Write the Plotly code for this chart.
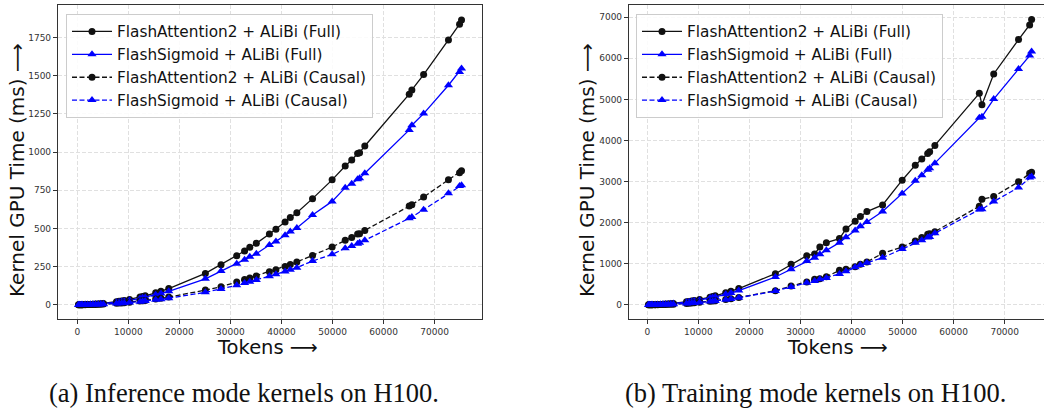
import plotly.graph_objects as go

tokens = [256, 512, 768, 1024, 1536, 2048, 2560, 3072, 3584, 4096, 4608, 5120,
          7680, 8192, 8704, 9216, 10240, 12288, 12800, 13312, 15360, 16384, 17920,
          25088, 28160, 31232, 32768, 33792, 35072, 37632, 38912, 40704, 41728, 43008,
          46080, 49920, 52480, 53760, 54912, 55296, 56320, 65024, 65536, 67840,
          72704, 74880, 75264]

# (a) Inference mode
inf_fa2_full = [0.1, 0.2, 0.3, 0.4, 0.8, 1.4, 2.2, 3.1, 4.2, 5.5, 7.0, 8.6,
                19, 22, 25, 28, 35, 50, 54, 58, 78, 88, 106,
                205, 262, 321, 352, 376, 402, 463, 494, 542, 572, 603,
                695, 818, 909, 948, 990, 996, 1040, 1379, 1407, 1508,
                1735, 1838, 1866]
inf_fs_full = [0.1, 0.2, 0.3, 0.4, 0.7, 1.2, 1.8, 2.6, 3.5, 4.6, 5.8, 7.1,
               16, 18, 21, 23, 29, 41, 45, 48, 65, 73, 88,
               170, 221, 269, 295, 315, 334, 391, 415, 455, 479, 503,
               588, 677, 767, 793, 822, 828, 861, 1145, 1176, 1252,
               1438, 1525, 1547]
inf_fa2_causal = [0.05, 0.1, 0.15, 0.2, 0.4, 0.7, 1.1, 1.5, 2.0, 2.6, 3.3, 4.1,
                  9, 10.5, 12, 13.5, 17, 24, 26, 28, 37, 42, 50,
                  96, 118, 149, 166, 175, 188, 216, 229, 251, 264, 280,
                  323, 378, 422, 441, 463, 465, 487, 647, 655, 705,
                  819, 865, 878]
inf_fs_causal = [0.05, 0.1, 0.15, 0.2, 0.35, 0.6, 0.9, 1.3, 1.7, 2.2, 2.8, 3.5,
                 8, 9, 10, 11.5, 14, 20, 22, 24, 32, 36, 43,
                 81, 103, 127, 142, 151, 162, 186, 199, 218, 229, 243,
                 286, 330, 370, 385, 400, 406, 422, 566, 575, 623,
                 730, 778, 782]

# (b) Training mode
trn_fa2_full = [0.1, 0.3, 0.7, 1.3, 2.9, 5.1, 8.0, 11.6, 15.7, 20.5, 26, 32,
                72, 82, 93, 104, 128, 185, 200, 217, 289, 329, 394,
                756, 984, 1195, 1236, 1406, 1512, 1610, 1845, 2032, 2146, 2268,
                2431, 3032, 3398, 3545, 3683, 3724, 3878, 5146, 4870, 5618,
                6455, 6813, 6943]
trn_fs_full = [0.1, 0.25, 0.6, 1.1, 2.5, 4.4, 7, 10, 13.7, 18, 22.6, 28,
               63, 72, 81, 91, 112, 162, 176, 190, 253, 288, 345,
               675, 862, 1065, 1146, 1228, 1325, 1512, 1642, 1805, 1911, 2016,
               2268, 2707, 3016, 3154, 3285, 3320, 3447, 4553, 4577, 5008,
               5740, 6065, 6163]
trn_fa2_causal = [0.05, 0.15, 0.3, 0.6, 1.3, 2.3, 3.6, 5.2, 7, 9.2, 11.7, 14.4,
                  32, 37, 42, 47, 58, 83, 90, 98, 130, 148, 178,
                  341, 455, 553, 618, 634, 683, 837, 862, 927, 984, 1041,
                  1252, 1406, 1553, 1634, 1715, 1730, 1780, 2398, 2569, 2634,
                  2992, 3203, 3228]
trn_fs_causal = [0.05, 0.14, 0.3, 0.55, 1.2, 2.2, 3.4, 5, 6.7, 8.8, 11.1, 13.7,
                 31, 35, 40, 45, 55, 79, 86, 93, 124, 141, 170,
                 333, 431, 537, 577, 618, 650, 748, 813, 911, 968, 1024,
                 1146, 1358, 1512, 1569, 1634, 1650, 1740, 2317, 2325, 2512,
                 2854, 3098, 3122]

x_ticks = [0, 10000, 20000, 30000, 40000, 50000, 60000, 70000]
y_ticks_inf = [0, 250, 500, 750, 1000, 1250, 1500, 1750]
y_ticks_trn = [0, 1000, 2000, 3000, 4000, 5000, 6000, 7000]

names = ["FlashAttention2 + ALiBi (Full)", "FlashSigmoid + ALiBi (Full)",
         "FlashAttention2 + ALiBi (Causal)", "FlashSigmoid + ALiBi (Causal)"]
colors = ["#111111", "#0000ff", "#111111", "#0000ff"]
symbols = ["circle", "triangle-up", "circle", "triangle-up"]
dashes = ["solid", "solid", "5px,2.5px", "5px,2.5px"]

W, H = 1044, 410
FONT = "DejaVu Sans"

fig = go.Figure()

panels = [
    ([inf_fa2_full, inf_fs_full, inf_fa2_causal, inf_fs_causal], "x", "y", "legend"),
    ([trn_fa2_full, trn_fs_full, trn_fa2_causal, trn_fs_causal], "x2", "y2", "legend2"),
]
for series, xa, ya, lg in panels:
    for i, ys in enumerate(series):
        fig.add_trace(go.Scatter(
            x=tokens, y=ys, name=names[i], xaxis=xa, yaxis=ya, legend=lg,
            mode="lines+markers",
            line=dict(color=colors[i], width=1.3, dash=dashes[i]),
            marker=dict(color=colors[i], symbol=symbols[i],
                        size=7 if symbols[i] == "circle" else 8),
        ))

def px_x(p):
    return p / W

def px_y(p):
    return (H - p) / H

axis_common = dict(
    showline=True, linecolor="#333333", linewidth=1.2,
    ticks="outside", ticklen=4, tickwidth=1, tickcolor="#333333",
    tickfont=dict(family=FONT, size=9, color="#333333"),
    showgrid=True, gridcolor="#e0e0e0", griddash="4px,2px", gridwidth=1,
    zeroline=False,
)

legend_common = dict(
    xanchor="left", yanchor="top",
    bgcolor="rgba(255,255,255,0.85)", bordercolor="#cccccc", borderwidth=1,
    font=dict(family=FONT, size=15.3, color="#111111"),
    tracegroupgap=0, itemwidth=40,
)

fig.update_layout(
    width=W, height=H,
    margin=dict(l=0, r=0, t=0, b=0),
    paper_bgcolor="white", plot_bgcolor="white",
    font=dict(family=FONT),
    xaxis=dict(domain=[px_x(58), px_x(482)], range=[-3775, 79275],
               tickvals=x_ticks, ticktext=[str(v) for v in x_ticks],
               anchor="y", mirror=True, **axis_common),
    yaxis=dict(domain=[px_y(319), px_y(5)], range=[-93.5, 1963.5],
               tickvals=y_ticks_inf,
               anchor="x", mirror=True, **axis_common),
    xaxis2=dict(domain=[px_x(629), 1.0], range=[-3580, 77690],
                tickvals=x_ticks, ticktext=[str(v) for v in x_ticks],
                anchor="y2", mirror=True, **axis_common),
    yaxis2=dict(domain=[px_y(319), px_y(5)], range=[-347, 7297],
                tickvals=y_ticks_trn,
                anchor="x2", mirror=False, **axis_common),
    legend=dict(x=px_x(66), y=px_y(14), **legend_common),
    legend2=dict(x=px_x(636), y=px_y(14), **legend_common),
    showlegend=True,
)

ann = []
ylab = "Kernel GPU Time (ms) \u27f6"
ann.append(dict(text=ylab, x=px_x(17), y=px_y(170), textangle=-90, size=20))
ann.append(dict(text=ylab, x=px_x(587), y=px_y(170), textangle=-90, size=20))
ann.append(dict(text="Tokens \u27f6", x=px_x(267), y=px_y(347), size=19.5))
ann.append(dict(text="Tokens \u27f6", x=px_x(837), y=px_y(347), size=19.5))
for a in ann:
    s = a.pop("size")
    a.update(xref="paper", yref="paper", showarrow=False, xanchor="center", yanchor="middle",
             borderpad=0, font=dict(family=FONT, size=s, color="#111111"))
caps = [("(a) Inference mode kernels on H100.", 244), ("(b) Training mode kernels on H100.", 815)]
for t, cx in caps:
    ann.append(dict(text=t, x=px_x(cx), y=px_y(393), xref="paper", yref="paper",
                    showarrow=False, xanchor="center", yanchor="middle",
                    font=dict(family="Liberation Serif", size=26.5, color="#111111")))
fig.update_layout(annotations=ann)

fig.write_html("out.html")
